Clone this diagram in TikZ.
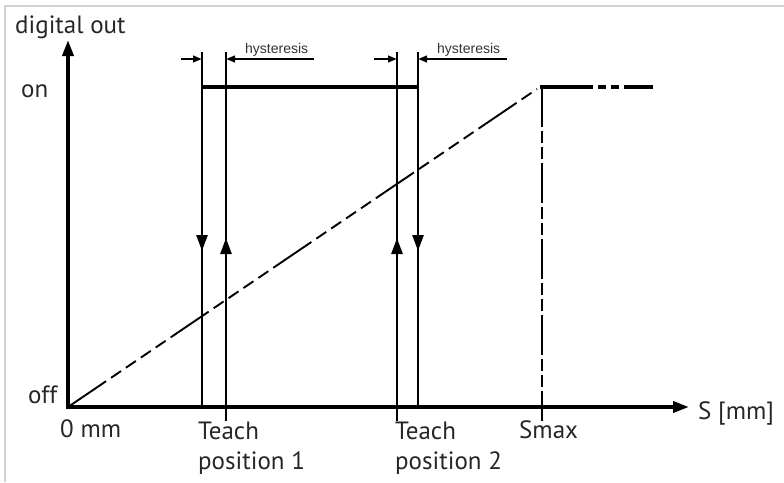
\documentclass[tikz,border=0pt]{standalone}
\usepackage{fontspec}
\setmainfont{PT Sans}
\newfontfamily\hystfont{Liberation Sans}
\usetikzlibrary{positioning,calc,arrows.meta,decorations.markings}
\tikzstyle{axis} = [line width=3.6pt, -{Triangle[length=16pt,width=11pt]}]
\tikzstyle{switch} = [line width=2.7pt]
\tikzstyle{level} = [line width=3.2pt]
\tikzstyle{hyst} = [line width=2.5pt, -{Triangle[length=9pt,width=6.5pt]}]
\tikzstyle{ramp} = [line width=1.9pt, dash pattern=on 46pt off 6pt on 12pt off 6pt on 12pt off 6pt on 12pt off 6pt on 12pt off 6pt]
\tikzstyle{smax_line} = [line width=1.2pt, dash pattern=on 40pt off 4pt on 12pt off 4pt on 12pt off 4pt]
\tikzstyle{label} = [inner sep=0pt, text=black!85, font=\fontsize{25}{30}\selectfont]
\tikzstyle{hyst_label} = [inner sep=0pt, text=black!80, font=\hystfont\fontsize{14}{15}\selectfont]
\tikzstyle{frame} = [draw=black!18, line width=2pt]
\tikzset{
  mark_down/.style={postaction={decorate}, decoration={markings,
    mark=at position #1 with {\arrow{Triangle[length=16pt,width=11pt]}}}},
  mark_up/.style={postaction={decorate}, decoration={markings,
    mark=at position #1 with {\arrow{Triangle[length=16pt,width=11pt]}}}}
}

\begin{document}
\begin{tikzpicture}[x=1pt,y=-1pt]
\useasboundingbox (0,0) rectangle (784,482);

% Frame of the screenshot
\draw [frame] (5,482) -- (5,6) -- (784,6);

% Axes
\coordinate (Origin) at (68,407);
\coordinate (Y_Tip) at (68,40);
\coordinate (X_Tip) at (689,407);

% Teach position 1
\coordinate (T1_Off_Top) at (202,52);
\coordinate (T1_Off_Bot) at (202,407);
\coordinate (T1_On_Top) at (226,52);
\coordinate (T1_On_Bot) at (226,421);
% Teach position 2
\coordinate (T2_On_Top) at (397,52);
\coordinate (T2_On_Bot) at (397,421);
\coordinate (T2_Off_Top) at (418,52);
\coordinate (T2_Off_Bot) at (418,407);

% Hysteresis arrows ends
\coordinate (H1_Left) at (181,59);
\coordinate (H1_Right) at (314,59);
\coordinate (H2_Left) at (374,59);
\coordinate (H2_Right) at (507,59);

% Ramp and Smax
\coordinate (Ramp_End) at (537,89);
\coordinate (Smax_Top) at (542,87);
\coordinate (Smax_Bot) at (542,421);
\coordinate (On_End) at (653,87);

% Labels
\node[label, anchor=base west] (Digital_Out) at (15,33) {digital out};
\node[label, anchor=base west] (On_Label) at (21,97) {on};
\node[label, anchor=base west] (Off_Label) at (28,403) {off};
\node[label, anchor=base west] (Zero_Label) at (60,437) {0 mm};
\node[label, anchor=base west, align=left] (Teach_1) at (198,469) {Teach\\position 1};
\node[label, anchor=base west, align=left] (Teach_2) at (395,469) {Teach\\position 2};
\node[label, anchor=base west] (Smax_Label) at (519,438) {Smax};
\node[label, anchor=base west] (S_Label) at (698,419) {S [mm]};
\node[hyst_label, anchor=base west] (Hyst_1) at (245,53) {hysteresis};
\node[hyst_label, anchor=base west] (Hyst_2) at (437,53) {hysteresis};

% Ramp of the output
\draw [ramp] (Origin) -- (Ramp_End);
\draw [smax_line] (Smax_Top) -- (Smax_Bot);
\draw [level, dash pattern=on 53pt off 5pt on 8pt off 5pt on 8pt off 5pt on 40pt] (Smax_Top) ++(-2,0) -- (On_End);

% Switching lines
\draw [switch, mark_down=199pt] (T1_Off_Top) -- (T1_Off_Bot);
\draw [switch, mark_up=183pt] (T1_On_Bot) -- (T1_On_Top);
\draw [switch, mark_up=183pt] (T2_On_Bot) -- (T2_On_Top);
\draw [switch, mark_down=199pt] (T2_Off_Top) -- (T2_Off_Bot);
\draw [level] (T1_Off_Top |- Smax_Top) -- (T2_Off_Top |- Smax_Top);

% Hysteresis
\draw [hyst] (H1_Left) -- (H1_Left -| T1_Off_Top);
\draw [hyst] (H1_Right) -- (H1_Right -| T1_On_Top);
\draw [hyst] (H2_Left) -- (H2_Left -| T2_On_Top);
\draw [hyst] (H2_Right) -- (H2_Right -| T2_Off_Top);

% Draw axes
\draw [axis] (Origin) -- (Y_Tip);
\draw [axis] ($(Origin)+(-1.8,0)$) -- (X_Tip);

\end{tikzpicture}
\end{document}
